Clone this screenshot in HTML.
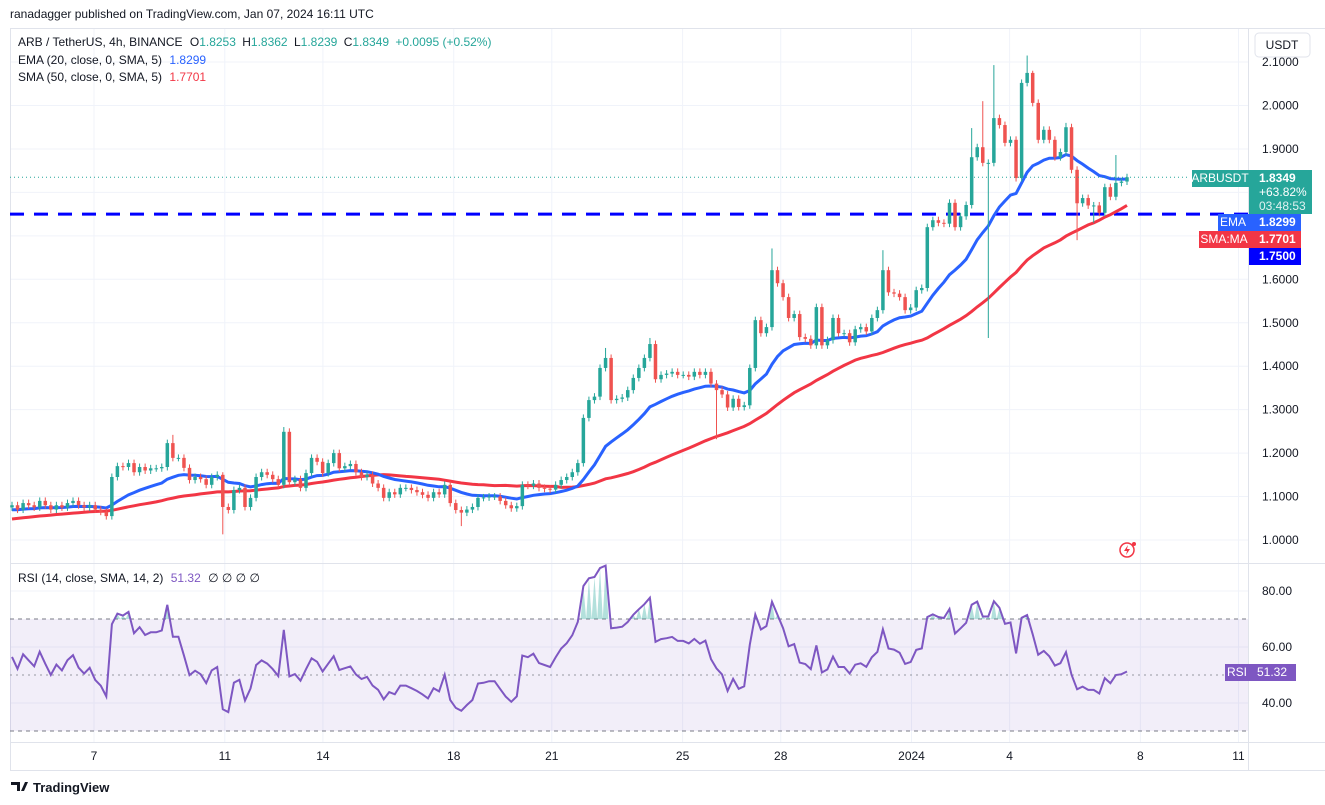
<!DOCTYPE html>
<html><head><meta charset="utf-8"><style>
html,body{margin:0;padding:0;background:#fff;width:1325px;height:805px;overflow:hidden;font-family:"Liberation Sans",sans-serif}
svg text{font-family:"Liberation Sans",sans-serif}
</style></head><body>
<svg id="c" width="1325" height="805" viewBox="0 0 1325 805" xmlns="http://www.w3.org/2000/svg"></svg>
<script>
const warmup=[1.0,1.01,1.0,1.02,1.01,1.02,1.03,1.02,1.01,1.03,1.02,1.03,1.04,1.03,1.02,1.04,1.03,1.04,1.05,1.04,1.03,1.04,1.05,1.04,1.05,1.06,1.05,1.04,1.05,1.06,1.05,1.06,1.07,1.06,1.05,1.06,1.07,1.06,1.07,1.08,1.07,1.06,1.07,1.08,1.07,1.08,1.09,1.08,1.07,1.08];
const closes=[1.08,1.07,1.085,1.08,1.075,1.09,1.08,1.07,1.08,1.075,1.085,1.09,1.08,1.075,1.08,1.07,1.065,1.055,
1.145,1.17,1.168,1.177,1.156,1.168,1.16,1.165,1.165,1.168,1.223,1.189,1.189,1.166,1.138,1.145,1.14,1.127,1.145,1.15,
1.076,1.069,1.115,1.12,1.076,1.097,1.145,1.156,1.15,1.14,1.127,1.249,1.133,
1.14,1.12,1.154,1.189,1.18,1.154,1.177,1.200,1.165,1.17,1.175,1.156,1.145,1.15,1.13,1.12,1.097,1.11,1.105,1.12,1.12,1.115,1.11,1.104,1.097,1.11,1.105,1.127,
1.085,1.069,1.063,1.07,1.076,1.097,1.098,1.10,1.10,1.09,1.08,1.073,1.078,1.127,1.125,1.13,1.12,1.118,1.116,1.127,1.138,1.145,1.156,1.177,
1.281,1.322,1.33,1.396,1.419,1.322,1.325,1.328,1.345,1.373,1.396,1.419,1.451,1.37,1.38,1.383,1.387,1.38,1.38,1.376,1.387,1.38,1.387,1.36,1.345,1.335,1.305,1.325,1.306,1.31,
1.396,1.506,1.476,1.49,1.621,1.591,1.559,1.511,1.52,1.467,1.463,1.448,1.536,1.448,1.46,1.511,1.476,1.476,1.455,1.485,1.49,1.48,1.511,1.529,1.621,1.57,1.567,1.559,1.529,1.535,1.575,1.58,
1.72,1.736,1.73,1.728,1.776,1.72,1.745,1.771,1.881,1.904,1.868,1.868,1.971,1.955,1.914,1.921,1.833,2.052,2.075,2.006,1.921,1.944,1.921,1.881,1.893,1.95,1.852,1.775,1.787,1.77,1.77,1.753,1.812,1.79,1.822,1.825,1.8349];
const wicks={29:[1.242,null],38:[1.156,1.013],49:[1.26,null],81:[null,1.032],107:[1.442,null],115:[1.465,null],127:[null,1.232],137:[1.671,null],157:[1.667,null],173:[1.948,null],175:[2.01,null],176:[null,1.465],177:[2.093,null],183:[2.115,null],184:[2.08,null],190:[1.96,null],192:[null,1.69],195:[null,1.73],199:[1.886,null]};
const priceTicks=[2.1,2.0,1.9,1.6,1.5,1.4,1.3,1.2,1.1,1.0];
const gridPrices=[2.1,2.0,1.9,1.8,1.7,1.6,1.5,1.4,1.3,1.2,1.1,1.0];
const rsiTicks=[80,60,40];
const dateLabels=["7","11","14","18","21","25","28","2024","4","8","11"];
const dateDays=[7,11,14,18,21,25,28,32,35,39,42];
const level=1.75;

const svg=document.getElementById('c');
const NS='http://www.w3.org/2000/svg';
function mk(tag,attrs,parent){const e=document.createElementNS(NS,tag);for(const k in attrs)e.setAttribute(k,attrs[k]);(parent||svg).appendChild(e);return e;}
const py=p=>540-(p-1)*434.5;
const ry=v=>591+(80-v)*2.8;
const dx=d=>94+(d-7)*32.7;
const step=(1127-12)/(closes.length-1);
const cx=i=>12+i*step;

gridPrices.forEach(p=>{const l=mk('line',{x1:10,x2:1248,y1:py(p),y2:py(p),stroke:'#f0f3fa','stroke-width':1});

});
[80,60,40].forEach(v=>{mk('line',{x1:10,x2:1248,y1:ry(v),y2:ry(v),stroke:'#f0f3fa'});});
dateDays.forEach(d=>{const l=mk('line',{x1:dx(d),x2:dx(d),y1:28,y2:742,stroke:'#f0f3fa'});

});
mk('line',{x1:1248.5,x2:1248.5,y1:28,y2:770,stroke:'#e0e3eb'});
mk('line',{x1:10,x2:1325,y1:563.5,y2:563.5,stroke:'#e0e3eb'});
mk('line',{x1:10,x2:1325,y1:742.5,y2:742.5,stroke:'#e0e3eb'});
mk('line',{x1:10,x2:1325,y1:770.5,y2:770.5,stroke:'#e0e3eb'});
mk('line',{x1:10.5,x2:10.5,y1:28,y2:770,stroke:'#e0e3eb'});
mk('line',{x1:10,x2:1325,y1:28.5,y2:28.5,stroke:'#e0e3eb'});

const hl=mk('line',{x1:10,x2:1248,y1:py(level),y2:py(level),stroke:'#0000ff','stroke-width':3,'stroke-dasharray':'14 10'});



const all=warmup.concat(closes);const W=warmup.length;
let ema=[],e=all.slice(0,20).reduce((a,b)=>a+b)/20;
for(let i=0;i<all.length;i++){if(i>=20)e=all[i]*2/21+e*19/21;ema.push(e);}
let sma=all.map((v,i)=>{const s=all.slice(Math.max(0,i-49),i+1);return s.reduce((a,b)=>a+b)/s.length;});
function path(arr,fy){return arr.slice(W).map((v,i)=>(i?'L':'M')+cx(i).toFixed(1)+' '+fy(v).toFixed(1)).join(' ');}
const smaP=mk('path',{d:path(sma,py),fill:'none',stroke:'#f23645','stroke-width':3});


const emaP=mk('path',{d:path(ema,py),fill:'none',stroke:'#2962ff','stroke-width':3});



const cg=mk('g',{});
for(let i=0;i<closes.length;i++){
  const o=i?closes[i-1]:closes[0]-0.005,c=closes[i];
  let h=Math.max(o,c)+0.008,l=Math.min(o,c)-0.008;
  if(wicks[i]){if(wicks[i][0]!=null)h=wicks[i][0];if(wicks[i][1]!=null)l=wicks[i][1];}
  const col=c>=o?'#26a69a':'#ef5350';const x=cx(i);
  const w=mk('line',{x1:x,x2:x,y1:py(h),y2:py(l),stroke:col,'stroke-width':1},cg);
  
  
  const top=py(Math.max(o,c)),bh=Math.max(1,Math.abs(py(o)-py(c)));
  const b=mk('rect',{x:x-1.75,y:top,width:3.5,height:bh,fill:col},cg);
  
  
}
mk('line',{x1:10,x2:1190,y1:py(1.8349),y2:py(1.8349),stroke:'#26a69a','stroke-dasharray':'1 3'});

mk('rect',{x:10,y:ry(70),width:1238,height:ry(30)-ry(70),fill:'rgba(126,87,194,0.1)'});
[70,30].forEach(v=>mk('line',{x1:10,x2:1248,y1:ry(v),y2:ry(v),stroke:'#787b86','stroke-dasharray':'4 4'}));
mk('line',{x1:10,x2:1248,y1:ry(50),y2:ry(50),stroke:'#9598a1','stroke-dasharray':'2 4'});
let ag=0,al=0,rsi=[];
for(let i=1;i<all.length;i++){const d=all[i]-all[i-1],g=Math.max(d,0),ls=Math.max(-d,0);
 if(i<=14){ag+=g/14;al+=ls/14;}else{ag=(ag*13+g)/14;al=(al*13+ls)/14;}
 rsi[i]=al===0?100:100-100/(1+ag/al);}
rsi[0]=50;
const rs=rsi.slice(W);
let fillD='';
rs.forEach((v,i)=>{if(v>70){fillD+='M'+(cx(i)-step/2)+' '+ry(70)+'L'+cx(i)+' '+ry(v)+'L'+(cx(i)+step/2)+' '+ry(70)+'Z';}});
const rf=mk('path',{d:fillD,fill:'rgba(38,166,154,0.35)'});


const rp=mk('path',{d:rs.map((v,i)=>(i?'L':'M')+cx(i).toFixed(1)+' '+ry(v).toFixed(1)).join(' '),fill:'none',stroke:'#7e57c2','stroke-width':2});



function txt(s,x,y,attrs,name,inter){const t=mk('text',Object.assign({x:x,y:y,'font-size':12,fill:'#131722'},attrs||{}));t.textContent=s;
 
 return t;}
priceTicks.forEach(p=>txt(p.toFixed(4),1262,py(p)+4,{},'price-tick'));
rsiTicks.forEach(v=>txt(v.toFixed(2),1262,ry(v)+4,{},'rsi-tick'));
dateLabels.forEach((s,k)=>txt(s,dx(dateDays[k]),760,{'text-anchor':'middle'},'date-tick'));
</script>
<svg width="1325" height="805" style="position:absolute;left:0;top:0" xmlns="http://www.w3.org/2000/svg">
<text x="10" y="18" font-size="12" fill="#131722">ranadagger published on TradingView.com, Jan 07, 2024 16:11 UTC</text>
<text x="18" y="46" font-size="12" fill="#131722">ARB / TetherUS, 4h, BINANCE  <tspan dx="4">O</tspan><tspan fill="#26a69a">1.8253</tspan> <tspan dx="3">H</tspan><tspan fill="#26a69a">1.8362</tspan> <tspan dx="3">L</tspan><tspan fill="#26a69a">1.8239</tspan> <tspan dx="3">C</tspan><tspan fill="#26a69a">1.8349</tspan> <tspan dx="3" fill="#26a69a">+0.0095 (+0.52%)</tspan></text>
<text x="18" y="64" font-size="12" fill="#131722">EMA (20, close, 0, SMA, 5) <tspan dx="4" fill="#2962ff">1.8299</tspan></text>
<text x="18" y="81" font-size="12" fill="#131722">SMA (50, close, 0, SMA, 5) <tspan dx="4" fill="#f23645">1.7701</tspan></text>
<text x="18" y="582" font-size="12" fill="#131722">RSI (14, close, SMA, 14, 2) <tspan dx="4" fill="#7e57c2">51.32</tspan> <tspan dx="4">∅ ∅ ∅ ∅</tspan></text>
<rect x="1255" y="33" width="55" height="24" rx="4" fill="#fff" stroke="#e0e3eb"/>
<text x="1282" y="49" font-size="12" text-anchor="middle" fill="#131722">USDT</text>
<rect x="1192" y="170" width="57" height="17" fill="#26a69a"/>
<text x="1220" y="182" font-size="12" text-anchor="middle" fill="#fff">ARBUSDT</text>
<rect x="1249" y="170" width="63" height="44" fill="#26a69a"/>
<text x="1259" y="182" font-size="12" font-weight="bold" fill="#fff">1.8349</text>
<text x="1259" y="196" font-size="12" fill="#fff">+63.82%</text>
<text x="1259" y="210" font-size="12" fill="#e0f2f1">03:48:53</text>
<rect x="1218" y="214" width="31" height="17" fill="#2962ff"/>
<text x="1233" y="226" font-size="12" text-anchor="middle" fill="#fff">EMA</text>
<rect x="1249" y="214" width="52" height="17" fill="#2962ff"/>
<text x="1259" y="226" font-size="12" font-weight="bold" fill="#fff">1.8299</text>
<rect x="1199" y="231" width="50" height="17" fill="#f23645"/>
<text x="1224" y="243" font-size="12" text-anchor="middle" fill="#fff">SMA:MA</text>
<rect x="1249" y="231" width="52" height="17" fill="#f23645"/>
<text x="1259" y="243" font-size="12" font-weight="bold" fill="#fff">1.7701</text>
<rect x="1249" y="248" width="52" height="17" fill="#0000ff"/>
<text x="1259" y="260" font-size="12" font-weight="bold" fill="#fff">1.7500</text>
<rect x="1225" y="664" width="24" height="17" fill="#7e57c2"/>
<text x="1237" y="676" font-size="12" text-anchor="middle" fill="#fff">RSI</text>
<rect x="1249" y="664" width="47" height="17" fill="#7e57c2"/>
<text x="1257" y="676" font-size="12" fill="#fff">51.32</text>
<g><circle cx="1127" cy="550" r="7" fill="none" stroke="#f23645" stroke-width="1.5"/><path d="M1128 545 L1124 551 L1127 551 L1126 555 L1130 549 L1127 549 Z" fill="#f23645"/><circle cx="1134" cy="544" r="2" fill="#f23645"/></g>
<g><path d="M11 782 h9 v9 h-3 v-6 h-6 z M21 791 l4 -9 h3 l-4 9 z" fill="#131722"/><text x="33" y="792" font-size="13" font-weight="bold" fill="#131722">TradingView</text></g>
</svg>
</body></html>
